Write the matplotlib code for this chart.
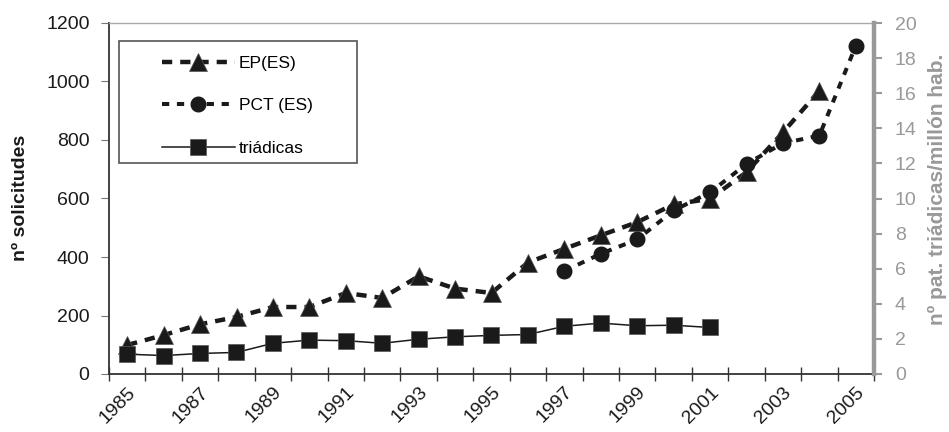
import numpy as np
import matplotlib.pyplot as plt
from matplotlib.patches import Rectangle

plt.rcParams['font.family'] = ['Liberation Sans', 'DejaVu Sans']

# datos
years = list(range(1985, 2006))
ep_es = [99, 133, 170, 195, 229, 229, 277, 260, 334, 292, 277, 381,
         428, 474, 519, 580, 599, 690, 826, 968, np.nan]
pct_es = [np.nan] * 12 + [352, 411, 460, 559, 621, 718, 789, 815, 1122]
# patentes triádicas por millón de habitantes (eje derecho)
triadicas = [1.13, 1.05, 1.17, 1.23, 1.75, 1.93, 1.90, 1.75, 1.98, 2.12,
             2.20, 2.25, 2.72, 2.90, 2.75, 2.78, 2.65] + [np.nan] * 4

W, H = 949, 432
fig = plt.figure(figsize=(W / 100, H / 100), dpi=100)
ax = fig.add_axes([109 / W, 1 - 374 / H, (874 - 109) / W, (374 - 23) / H])
ax2 = ax.twinx()

x = np.arange(len(years))
dark = '#1a1a1a'
grey = '#999999'
fs = 12.5      # leyenda
tfs = 14       # etiquetas de los ejes

l_ep, = ax.plot(x, ep_es, color=dark, lw=3.2, linestyle=(0, (2.3, 1.8)),
                marker='^', markersize=12.5, markeredgecolor='#555555',
                markeredgewidth=0.5, label='EP(ES)')
l_pct, = ax.plot(x, pct_es, color=dark, lw=2.9, linestyle=(0, (1.8, 1.9)),
                 marker='o', markersize=10.5, markeredgecolor=dark,
                 label='PCT (ES)')
l_tri, = ax2.plot(x, triadicas, color=dark, lw=1.1, linestyle='-',
                  marker='s', markersize=11.5, markeredgecolor='#555555',
                  markeredgewidth=0.5, label='triádicas')

ax.set_xlim(-0.5, len(years) - 0.5)
ax.set_ylim(0, 1200)
ax2.set_ylim(0, 20)
ax.set_yticks(range(0, 1201, 200))
ax2.set_yticks(range(0, 21, 2))

# ticks del eje x en los límites de categoría, etiquetas en años impares
ax.set_xticks(np.arange(-0.5, len(years), 1.0))
ax.set_xticklabels([])
ax.set_xticks(x[::2], [str(y) for y in years[::2]], minor=True)
ax.tick_params(axis='x', which='major', direction='inout', length=10,
               width=1.0, color='#333333')
ax.tick_params(axis='x', which='minor', length=0, pad=7, labelsize=tfs,
               labelcolor=dark)
for lab in ax.get_xticklabels(minor=True):
    lab.set_rotation(45)
    lab.set_ha('right')
    lab.set_va('top')
    lab.set_rotation_mode('anchor')

ax.tick_params(axis='y', direction='out', length=6, width=0.8,
               color='#777777', labelsize=tfs, labelcolor=dark, pad=8)
ax2.tick_params(axis='y', direction='out', length=6, width=1.5,
                color=grey, labelsize=tfs, labelcolor=grey, pad=9)

for s in ['left', 'bottom']:
    ax.spines[s].set_color('#333333')
    ax.spines[s].set_linewidth(1.3)
ax.spines['top'].set_color('#aaaaaa')
ax.spines['top'].set_linewidth(1.0)
ax.spines['right'].set_visible(False)
for s in ['left', 'top', 'bottom']:
    ax2.spines[s].set_visible(False)
ax2.spines['right'].set_color(grey)
ax2.spines['right'].set_linewidth(3.2)

ax.set_ylabel('nº solicitudes', fontsize=14, fontweight='bold', color=dark)
ax.yaxis.set_label_coords(29 / W, 1 - 198 / H, transform=fig.transFigure)
ax2.set_ylabel('nº pat. triádicas/millón hab.', fontsize=15,
               fontweight='bold', color=grey)
ax2.yaxis.set_label_coords(928 / W, 1 - 189 / H, transform=fig.transFigure)

# caja de la leyenda
box = Rectangle((119 / W, 1 - 163 / H), (357 - 119) / W, (163 - 41) / H,
                transform=fig.transFigure, facecolor='white',
                edgecolor='#555555', lw=1.2, zorder=4)
ax2.add_patch(box)
leg = ax2.legend([l_ep, l_pct, l_tri], ['EP(ES)', 'PCT (ES)', 'triádicas'],
                 loc='upper left', bbox_to_anchor=(153 / W, 1 - 47 / H),
                 bbox_transform=fig.transFigure, frameon=False, borderpad=0,
                 handlelength=4.2, handletextpad=0.25, labelspacing=1.58,
                 fontsize=fs)
leg.set_zorder(5)

fig.savefig('out.png', dpi=100)
